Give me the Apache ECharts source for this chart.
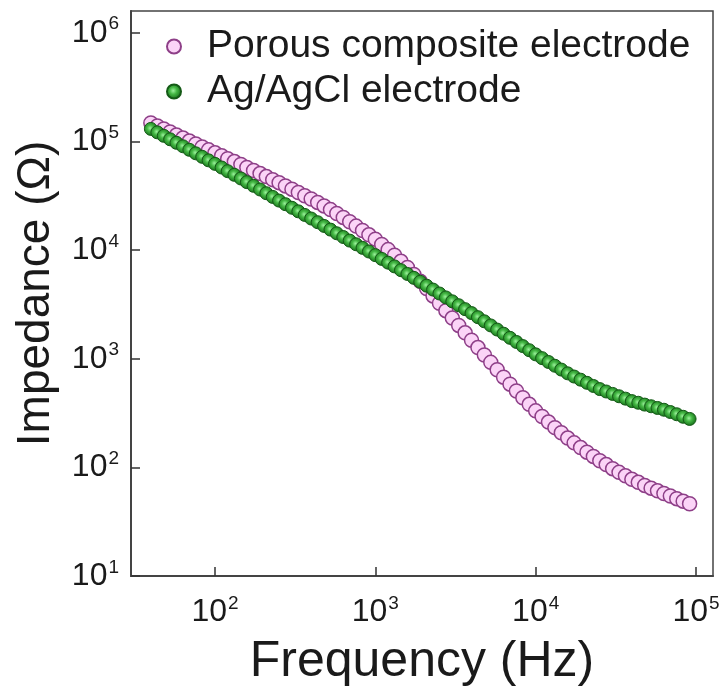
<!DOCTYPE html>
<html>
<head>
<meta charset="utf-8">
<script src="https://cdn.jsdelivr.net/npm/echarts@6/dist/echarts.min.js"></script>
<style>
  html, body { margin: 0; padding: 0; background: #fff; }
  #chart { width: 723px; height: 692px; }
</style>
</head>
<body>
<div id="chart"></div>
<script>
// frequency (Hz)
const freq = [39.8, 43.7, 47.9, 52.5, 57.5, 63.1, 69.2, 75.9, 83.2, 91.2,
  100, 110, 120, 132, 145, 158, 174, 191, 209, 229, 251, 275, 302, 331, 363, 398, 437, 479, 525, 575, 631, 692, 759, 832, 912,
  1000, 1096, 1202, 1318, 1445, 1585, 1738, 1905, 2089, 2291, 2512, 2754, 3020, 3311, 3631, 3981, 4365, 4786, 5248, 5754, 6310, 6918, 7586, 8318, 9120,
  10000, 10965, 12023, 13183, 14454, 15849, 17378, 19055, 20893, 22909, 25119, 27542, 30200, 33113, 36308, 39811, 43652, 47863, 52481, 57544, 63096, 69183, 75858, 83176, 91201];

// impedance (ohm)
const porous = [147900, 138700, 130000, 121900, 114300, 107200, 100700, 94620, 88920, 83560,
  78520, 73790, 69340, 65160, 61240, 57540, 53950, 50580, 47420, 44460, 41690, 38900, 36310, 33880, 31620, 29510, 27420, 25470, 23550, 21680, 19950, 18200, 16600, 15140, 13800,
  12590, 11270, 10090, 8954, 7870, 6918, 5970, 5152, 4426, 3784, 3236, 2767, 2366, 2023, 1730, 1479, 1265, 1081, 925, 791, 676, 583, 504, 437, 380,
  331, 294, 261, 232, 208, 186, 168, 152, 138, 126, 115, 106, 97.2, 89.9, 83.6, 77.6, 72.8, 68.2, 64.3, 60.8, 57.5, 54.5, 51.5, 48.8, 46.2];

const agagcl = [130300, 121100, 112500, 104500, 97050, 90160, 83690, 77660, 72080, 66900,
  62090, 57480, 53190, 49230, 45560, 42170, 38990, 36060, 33340, 30830, 28510, 26420, 24490, 22700, 21040, 19500, 18030, 16670, 15420, 14260, 13180, 12210, 11300, 10470, 9692,
  8974, 8286, 7652, 7067, 6525, 6026, 5546, 5105, 4699, 4325, 3981, 3664, 3373, 3105, 2858, 2630, 2410, 2208, 2023, 1854, 1698, 1556, 1426, 1306, 1197,
  1096, 1012, 933, 861, 794, 733, 685, 641, 600, 561, 525, 499, 474, 451, 429, 407, 393, 378, 365, 352, 339, 323, 308, 292, 279];

const seriesNames = ['Porous composite electrode', 'Ag/AgCl electrode'];
const xTickExp = [2, 3, 4, 5];
const yTickExp = [1, 2, 3, 4, 5, 6];

const font = 'Liberation Sans, Arial, sans-serif';

function powLabel(exps) {
  return function (v) {
    const l = Math.log10(v);
    const e = Math.round(l);
    if (Math.abs(l - e) > 1e-6 || exps.indexOf(e) < 0) return '';
    return '{b|10}{s|' + e + '}';
  };
}
const richTick = {
  b: { fontSize: 32, fontFamily: font, color: '#1a1a1a' },
  s: { fontSize: 19, fontFamily: font, color: '#1a1a1a', padding: [0, 0, 17, 1] }
};

var myChart = echarts.init(document.getElementById('chart'));
var option = {
  animation: false,
  grid: {
    left: 131, right: 10, top: 11, bottom: 112,
    show: true, borderColor: '#444', borderWidth: 1.5
  },
  legend: {
    orient: 'vertical',
    left: 161, top: 22,
    itemWidth: 14, itemHeight: 14,
    itemGap: 6,
    data: seriesNames,
    textStyle: { fontSize: 39, fontFamily: font, color: '#1a1a1a', padding: [0, 0, 0, 21] }
  },
  xAxis: {
    type: 'log',
    logBase: 10,
    min: Math.pow(10, 1.476),
    max: Math.pow(10, 5.106),
    name: 'Frequency (Hz)',
    nameLocation: 'middle',
    nameGap: 61,
    nameTextStyle: { fontSize: 50, fontFamily: font, color: '#1a1a1a' },
    axisLine: { lineStyle: { color: '#444', width: 2 } },
    axisTick: { inside: true, length: 9, lineStyle: { color: '#333', width: 1.5 } },
    minorTick: { show: false },
    splitLine: { show: false },
    axisLabel: {
      margin: 18,
      showMinLabel: false, showMaxLabel: false,
      formatter: powLabel(xTickExp),
      rich: richTick
    }
  },
  yAxis: {
    type: 'log',
    logBase: 10,
    min: 10,
    max: Math.pow(10, 6.2),
    name: 'Impedance (\u03A9)',
    nameLocation: 'middle',
    nameGap: 72,
    nameTextStyle: { fontSize: 46, fontFamily: font, color: '#1a1a1a' },
    axisLine: { lineStyle: { color: '#444', width: 2 } },
    axisTick: { inside: true, length: 9, lineStyle: { color: '#333', width: 1.5 } },
    splitLine: { show: false },
    axisLabel: {
      margin: 12,
      showMaxLabel: false,
      formatter: powLabel(yTickExp),
      rich: richTick
    }
  },
  series: [
    {
      name: seriesNames[0],
      type: 'scatter',
      symbol: 'circle',
      symbolSize: 14,
      data: freq.map((f, i) => [f, porous[i]]),
      itemStyle: { color: '#fbd4f7', borderColor: '#8e3f88', borderWidth: 1.5, opacity: 1 }
    },
    {
      name: seriesNames[1],
      type: 'scatter',
      symbol: 'circle',
      symbolSize: 13,
      data: freq.map((f, i) => [f, agagcl[i]]),
      itemStyle: {
        color: {
          type: 'radial', x: 0.45, y: 0.45, r: 0.55,
          colorStops: [
            { offset: 0, color: '#9cf09c' },
            { offset: 0.4, color: '#45b845' },
            { offset: 1, color: '#136b16' }
          ]
        },
        borderColor: '#145a16', borderWidth: 1, opacity: 1
      }
    }
  ]
};
myChart.setOption(option);
window.addEventListener('resize', function () { myChart.resize(); });
</script>
</body>
</html>
